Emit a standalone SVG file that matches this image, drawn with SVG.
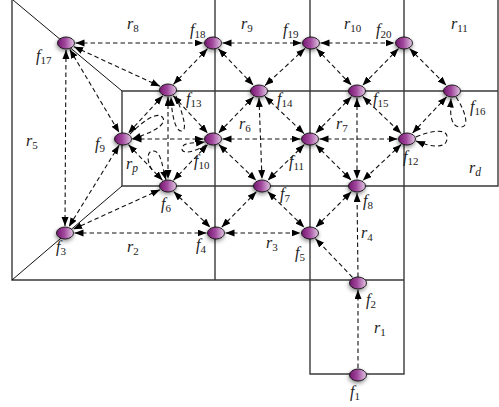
<svg xmlns="http://www.w3.org/2000/svg" width="499" height="407" viewBox="0 0 499 407">
<style>
.reg{stroke:#3a3a3a;stroke-width:1.4;fill:none}
.diag{stroke:#111;stroke-width:1;fill:none}
.e{stroke:#111;stroke-width:1.1;stroke-dasharray:4.5 3;fill:none;marker-end:url(#ah)}
.b{marker-start:url(#ah)}
.n{fill:url(#g);stroke:#111;stroke-width:0.9;filter:url(#sh)}
.lb{font-family:"Liberation Serif",serif;font-style:italic;font-size:16px;fill:#222}
.s{font-style:normal;font-size:11px}
.si{font-style:italic;font-size:11.5px}
</style>
<defs>
<linearGradient id="g" x1="0" y1="0" x2="1" y2="0">
<stop offset="0" stop-color="#74176f"/>
<stop offset="0.45" stop-color="#a0469c"/>
<stop offset="1" stop-color="#e2c8e4"/>
</linearGradient>
<filter id="sh" x="-60%" y="-60%" width="220%" height="240%">
<feDropShadow dx="-0.5" dy="2" stdDeviation="2" flood-color="#000" flood-opacity="0.45"/>
</filter>
<marker id="ah" markerUnits="userSpaceOnUse" markerWidth="10" markerHeight="8" refX="9" refY="3.5" orient="auto-start-reverse">
<path d="M0,0 L9,3.5 L0,7 z" fill="#000"/>
</marker>
</defs>

<g id="regions">
<path class="reg" d="M12,0 V280 H404"/>
<path class="reg" d="M215,0 V280 M310,0 V374 H404 V0 M498,0 V186 H122 V91 H498"/>
<path class="diag" d="M13,0 L122,91 M12,280 L122,186"/>
</g>

<g id="connectors">
<path class="e b" d="M75.5,43 H203.5"/>
<path class="e b" d="M222.5,43 H301.5"/>
<path class="e b" d="M320.5,43 H394.5"/>
<path class="e b" d="M66,50 L65,226"/>
<path class="e b" d="M74.5,233 H206.5"/>
<path class="e b" d="M225.5,233 H300.5"/>
<path class="e b" d="M74,46.7 L160,86.3"/>
<path class="e b" d="M69.8,49.4 L119.2,132.6"/>
<path class="e b" d="M207.5,48.7 L173.5,84.3"/>
<path class="e b" d="M218.4,48.8 L253.4,85.2"/>
<path class="e b" d="M305,48.4 L265,85.6"/>
<path class="e b" d="M316.5,48.7 L351.5,85.3"/>
<path class="e b" d="M398.5,48.6 L362.5,85.4"/>
<path class="e b" d="M409.6,48.6 L446.4,85.4"/>
<path class="e b" d="M162.7,95.8 L128.3,133.2"/>
<path class="e b" d="M173.3,95.8 L207.7,133.2"/>
<path class="e b" d="M168,97 V179"/>
<path class="e b" d="M253.6,96.8 L218.4,133.2"/>
<path class="e b" d="M264.9,96.4 L304.1,133.6"/>
<path class="e b" d="M259,98 L262,179"/>
<path class="e b" d="M351.4,96.7 L315.6,133.3"/>
<path class="e b" d="M362.8,96.5 L401.2,133.5"/>
<path class="e b" d="M357,98 V179"/>
<path class="e b" d="M446.6,96.8 L412.4,133.2"/>
<path class="e b" d="M132.5,139 H203.5"/>
<path class="e b" d="M222.5,139 H300.5"/>
<path class="e b" d="M319.5,139 H397.5"/>
<path class="e b" d="M128.5,144.7 L162.5,180.3"/>
<path class="e b" d="M119.1,145.3 L68.9,226.7"/>
<path class="e b" d="M207.5,144.7 L173.5,180.3"/>
<path class="e b" d="M218.8,144.5 L256.2,180.5"/>
<path class="e b" d="M304.3,144.6 L267.7,180.4"/>
<path class="e b" d="M315.7,144.7 L351.3,180.3"/>
<path class="e b" d="M401.2,144.5 L362.8,180.5"/>
<path class="e b" d="M160,189.7 L73,229.3"/>
<path class="e b" d="M173.7,191.6 L210.3,227.4"/>
<path class="e b" d="M256.4,191.7 L221.6,227.3"/>
<path class="e b" d="M267.7,191.6 L304.3,227.4"/>
<path class="e b" d="M351.3,191.7 L315.7,227.3"/>
<path class="e" d="M358,277 L357,193"/>
<path class="e" d="M352.5,277.3 L315.5,238.7"/>
<path class="e" d="M358,368 V290"/>
<path class="e" d="M130,134 C142,122 158,110 163,118 C167,126 148,134 132,139"/>
<path class="e" d="M176,96 C182,112 188,130 182,131 C176,132 172,118 171,97"/>
<path class="e" d="M152,170 C146,160 147,150 154,151 C161,152 162,165 166,180"/>
<path class="e" d="M206,145 C195,152 181,155 182,148 C183,142 195,143 205,142"/>
<path class="e" d="M416,137 C432,130 449,128 447,139 C446,150 428,146 416,141"/>
<path class="e" d="M456,97 C466,112 470,128 460,127 C450,127 450,112 451,98.5"/>
</g>

<g id="f1"><ellipse class="n" cx="358" cy="375" rx="8.5" ry="6"/><text class="lb" x="350" y="397">f<tspan class="s" dy="3">1</tspan></text></g>
<g id="f2"><ellipse class="n" cx="358" cy="283" rx="8.5" ry="6"/><text class="lb" x="366" y="305">f<tspan class="s" dy="3">2</tspan></text></g>
<g id="f3"><ellipse class="n" cx="65" cy="233" rx="8.5" ry="6"/><text class="lb" x="56" y="252">f<tspan class="s" dy="3">3</tspan></text></g>
<g id="f4"><ellipse class="n" cx="216" cy="233" rx="8.5" ry="6"/><text class="lb" x="196" y="250">f<tspan class="s" dy="3">4</tspan></text></g>
<g id="f5"><ellipse class="n" cx="310" cy="233" rx="8.5" ry="6"/><text class="lb" x="295" y="258">f<tspan class="s" dy="3">5</tspan></text></g>
<g id="f6"><ellipse class="n" cx="168" cy="186" rx="8.5" ry="6"/><text class="lb" x="161" y="209">f<tspan class="s" dy="3">6</tspan></text></g>
<g id="f7"><ellipse class="n" cx="262" cy="186" rx="8.5" ry="6"/><text class="lb" x="280" y="199">f<tspan class="s" dy="3">7</tspan></text></g>
<g id="f8"><ellipse class="n" cx="357" cy="186" rx="8.5" ry="6"/><text class="lb" x="363" y="206">f<tspan class="s" dy="3">8</tspan></text></g>
<g id="f9"><ellipse class="n" cx="123" cy="139" rx="8.5" ry="6"/><text class="lb" x="95" y="149">f<tspan class="s" dy="3">9</tspan></text></g>
<g id="f10"><ellipse class="n" cx="213" cy="139" rx="8.5" ry="6"/><text class="lb" x="194" y="166">f<tspan class="s" dy="3">10</tspan></text></g>
<g id="f11"><ellipse class="n" cx="310" cy="139" rx="8.5" ry="6"/><text class="lb" x="289" y="167">f<tspan class="s" dy="3">11</tspan></text></g>
<g id="f12"><ellipse class="n" cx="407" cy="139" rx="8.5" ry="6"/><text class="lb" x="403" y="162">f<tspan class="s" dy="3">12</tspan></text></g>
<g id="f13"><ellipse class="n" cx="168" cy="90" rx="8.5" ry="6"/><text class="lb" x="186" y="104">f<tspan class="s" dy="3">13</tspan></text></g>
<g id="f14"><ellipse class="n" cx="259" cy="91" rx="8.5" ry="6"/><text class="lb" x="277" y="104">f<tspan class="s" dy="3">14</tspan></text></g>
<g id="f15"><ellipse class="n" cx="357" cy="91" rx="8.5" ry="6"/><text class="lb" x="373" y="104">f<tspan class="s" dy="3">15</tspan></text></g>
<g id="f16"><ellipse class="n" cx="452" cy="91" rx="8.5" ry="6"/><text class="lb" x="470" y="112">f<tspan class="s" dy="3">16</tspan></text></g>
<g id="f17"><ellipse class="n" cx="66" cy="43" rx="8.5" ry="6"/><text class="lb" x="36" y="61">f<tspan class="s" dy="3">17</tspan></text></g>
<g id="f18"><ellipse class="n" cx="213" cy="43" rx="8.5" ry="6"/><text class="lb" x="190" y="35">f<tspan class="s" dy="3">18</tspan></text></g>
<g id="f19"><ellipse class="n" cx="311" cy="43" rx="8.5" ry="6"/><text class="lb" x="283" y="35">f<tspan class="s" dy="3">19</tspan></text></g>
<g id="f20"><ellipse class="n" cx="404" cy="43" rx="8.5" ry="6"/><text class="lb" x="376" y="35">f<tspan class="s" dy="3">20</tspan></text></g>

<g id="region-labels">
<text class="lb" x="374" y="333">r<tspan class="s" dy="3">1</tspan></text>
<text class="lb" x="127" y="252">r<tspan class="s" dy="3">2</tspan></text>
<text class="lb" x="266" y="248">r<tspan class="s" dy="3">3</tspan></text>
<text class="lb" x="361" y="238">r<tspan class="s" dy="3">4</tspan></text>
<text class="lb" x="26" y="146">r<tspan class="s" dy="3">5</tspan></text>
<text class="lb" x="239" y="129">r<tspan class="s" dy="3">6</tspan></text>
<text class="lb" x="336" y="129">r<tspan class="s" dy="3">7</tspan></text>
<text class="lb" x="127" y="29">r<tspan class="s" dy="3">8</tspan></text>
<text class="lb" x="241" y="29">r<tspan class="s" dy="3">9</tspan></text>
<text class="lb" x="344" y="29">r<tspan class="s" dy="3">10</tspan></text>
<text class="lb" x="451" y="29">r<tspan class="s" dy="3">11</tspan></text>
<text class="lb" x="126" y="169">r<tspan class="si" dy="3">p</tspan></text>
<text class="lb" x="469" y="173">r<tspan class="si" dy="3">d</tspan></text>
</g>
</svg>
